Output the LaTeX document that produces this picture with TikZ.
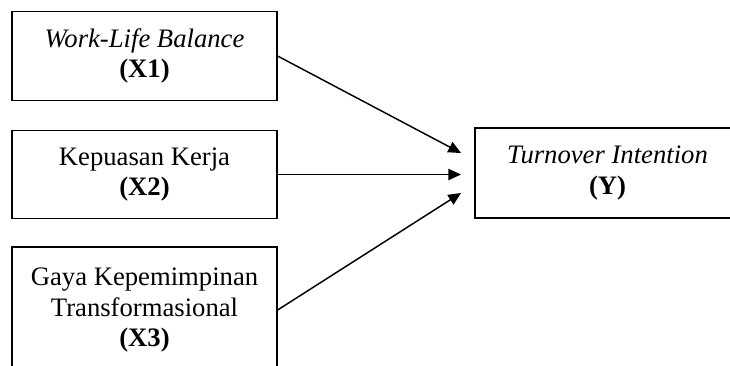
\documentclass[tikz,border=0pt]{standalone}
\usepackage{fontspec}
\setmainfont{Liberation Serif}
\usetikzlibrary{arrows.meta}

\begin{document}
\begin{tikzpicture}[x=0.75pt,y=0.75pt,yscale=-1,xscale=1,
  varbox/.style={draw, line width=0.9pt, align=center, inner sep=0pt,
    minimum width=198.75pt, minimum height=66.5pt,
    font=\fontsize{20}{23}\selectfont},
  link/.style={line width=1.1pt, -{Triangle[length=9.5pt,width=8.5pt]}}]
\useasboundingbox (0,0) rectangle (730,365);
\clip (0,0) rectangle (730,365);

% Text Node
\draw (144.5,56) node[varbox] (x1) {\textit{Work-Life Balance}\\\textbf{(X1)}};
% Text Node
\draw (144.5,174.5) node[varbox] (x2) {Kepuasan Kerja\\\textbf{(X2)}};
% Text Node
\draw (144.5,310) node[varbox, minimum height=94.5pt] (x3) {Gaya Kepemimpinan\\Transformasional\\\textbf{(X3)}};
% Text Node
\draw (607.5,173) node[varbox, minimum height=67.5pt] (y) {\textit{Turnover Intention}\\\textbf{(Y)}};

%Straight Lines
\coordinate (t1) at (461,153);
\coordinate (t2) at (461,174.5);
\coordinate (t3) at (461,193);
\draw[link] (x1.east) -- (t1);
\draw[link] (x2.east) -- (t2);
\draw[link] (x3.east) -- (t3);

\end{tikzpicture}
\end{document}
